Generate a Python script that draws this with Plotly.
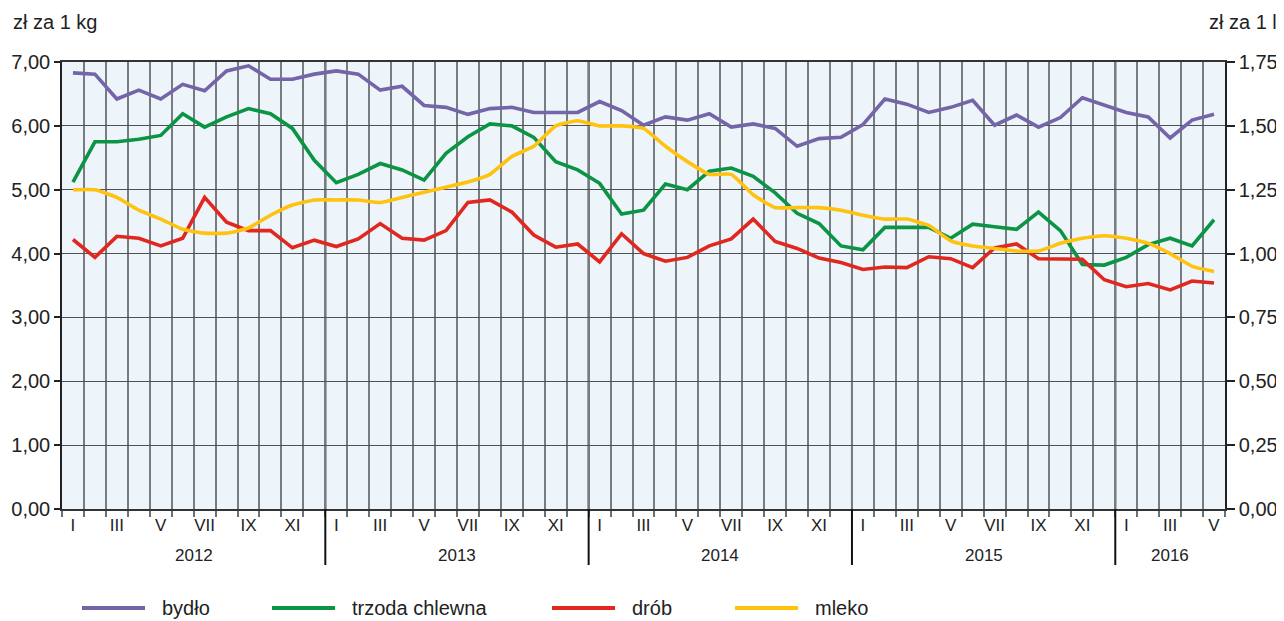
import plotly.graph_objects as go

# ---- data (monthly, I 2012 - V 2016) ----
years = ["2012", "2013", "2014", "2015", "2016"]
year_months = [12, 12, 12, 12, 5]
roman = ["I", "II", "III", "IV", "V", "VI", "VII", "VIII", "IX", "X", "XI", "XII"]

bydlo = [6.83, 6.81, 6.42, 6.56, 6.42, 6.65, 6.55, 6.86, 6.94, 6.73, 6.73, 6.81,
         6.86, 6.81, 6.56, 6.62, 6.32, 6.29, 6.18, 6.27, 6.29, 6.21, 6.21, 6.21,
         6.38, 6.24, 6.01, 6.14, 6.09, 6.19, 5.98, 6.03, 5.96, 5.68, 5.80, 5.82,
         6.02, 6.42, 6.34, 6.21, 6.29, 6.40, 6.01, 6.17, 5.98, 6.13, 6.44, 6.32,
         6.21, 6.14, 5.81, 6.09, 6.18]
trzoda = [5.12, 5.75, 5.75, 5.79, 5.85, 6.19, 5.98, 6.14, 6.27, 6.19, 5.96, 5.46,
          5.11, 5.24, 5.41, 5.31, 5.15, 5.57, 5.83, 6.03, 6.00, 5.82, 5.44, 5.31,
          5.10, 4.62, 4.68, 5.09, 5.00, 5.29, 5.34, 5.21, 4.95, 4.63, 4.47, 4.12,
          4.06, 4.41, 4.41, 4.41, 4.24, 4.46, 4.42, 4.38, 4.65, 4.36, 3.83, 3.82,
          3.94, 4.14, 4.24, 4.12, 4.53]
drob = [4.22, 3.94, 4.27, 4.24, 4.12, 4.24, 4.88, 4.49, 4.36, 4.36, 4.09, 4.21,
        4.11, 4.23, 4.47, 4.24, 4.21, 4.36, 4.80, 4.84, 4.65, 4.29, 4.10, 4.15,
        3.87, 4.31, 4.00, 3.88, 3.94, 4.12, 4.23, 4.54, 4.19, 4.08, 3.93, 3.86,
        3.75, 3.79, 3.78, 3.95, 3.92, 3.78, 4.09, 4.15, 3.92, 3.91, 3.91, 3.59,
        3.48, 3.53, 3.43, 3.57, 3.54]
mleko = [1.25, 1.25, 1.22, 1.17, 1.135, 1.095, 1.08, 1.08, 1.10, 1.15, 1.19, 1.21,
         1.21, 1.21, 1.20, 1.22, 1.24, 1.26, 1.28, 1.31, 1.38, 1.42, 1.50, 1.52,
         1.50, 1.50, 1.49, 1.42, 1.36, 1.31, 1.31, 1.23, 1.18, 1.18, 1.18, 1.17,
         1.15, 1.135, 1.135, 1.11, 1.05, 1.03, 1.02, 1.01, 1.01, 1.04, 1.06, 1.07,
         1.06, 1.04, 1.00, 0.95, 0.93]

series_names = ["bydło", "trzoda chlewna", "drób", "mleko"]
colors = ["#7464A8", "#0A9444", "#E0281F", "#FFC20E"]

# ---- derived axis helpers ----
n = len(bydlo)
x = list(range(n))
month_labels = []
for ym in year_months:
    month_labels += roman[:ym]
label_vals = [i for i in x if i % 2 == 0]
label_text = [month_labels[i] for i in label_vals]
bounds = [i - 0.5 for i in range(n + 1)]
year_edges = []
acc = 0
for ym in year_months:
    year_edges.append((acc - 0.5, acc + ym - 0.5))
    acc += ym

FONT = "Liberation Sans, Arial, sans-serif"
NARROW = "Liberation Sans Narrow, Arial Narrow, Liberation Sans, Arial, sans-serif"
OFF = 8  # page body margin
W, H = 1284 - OFF, 621 - OFF
# plot area in page pixels
PL, PR, PT, PB = 62, 1225, 62, 509
L, R, T, B = PL - OFF, PR - OFF, PT - OFF, PB - OFF


def px_x(p):
    return (p - PL) / (PR - PL)


def px_y(p):
    return (PB - p) / (PB - PT)


fig = go.Figure()
for name, vals, col in zip(series_names[:3], [bydlo, trzoda, drob], colors[:3]):
    fig.add_trace(go.Scatter(x=x, y=vals, name=name, mode="lines",
                             line=dict(color=col, width=3.6), showlegend=False))
fig.add_trace(go.Scatter(x=x, y=mleko, name=series_names[3], mode="lines", yaxis="y2",
                         line=dict(color=colors[3], width=3.6, shape="spline", smoothing=0.4),
                         showlegend=False))

shapes = []
for (a, b) in year_edges[:-1]:
    shapes.append(dict(type="line", xref="x", yref="paper", x0=b, x1=b, y0=0, y1=1,
                       line=dict(color="#111111", width=2), layer="between"))
    shapes.append(dict(type="line", xref="x", yref="paper", x0=b, x1=b, y0=px_y(565), y1=0,
                       line=dict(color="#111111", width=2), layer="above"))

annotations = []
for yname, (a, b) in zip(years, year_edges):
    annotations.append(dict(x=(a + b) / 2, y=px_y(555), xref="x", yref="paper", text=yname,
                            showarrow=False, font=dict(family=FONT, size=17, color="#222"),
                            xanchor="center", yanchor="middle"))
annotations.append(dict(x=px_x(11), y=px_y(22), xref="paper", yref="paper", text="zł za 1 kg",
                        showarrow=False, font=dict(family=FONT, size=20, color="#222"),
                        xanchor="left", yanchor="middle"))
annotations.append(dict(x=px_x(1279), y=px_y(22), xref="paper", yref="paper", text="zł za 1 l",
                        showarrow=False, font=dict(family=FONT, size=20, color="#222"),
                        xanchor="right", yanchor="middle"))

# manual legend
leg_x = [82, 272, 552, 735]
leg_y = 608
for lx, name, col in zip(leg_x, series_names, colors):
    shapes.append(dict(type="line", xref="paper", yref="paper", x0=px_x(lx), x1=px_x(lx + 63),
                       y0=px_y(leg_y), y1=px_y(leg_y), line=dict(color=col, width=4), layer="above"))
    annotations.append(dict(x=px_x(lx + 78), y=px_y(leg_y), xref="paper", yref="paper", text=name,
                            showarrow=False, font=dict(family=FONT, size=20, color="#222"),
                            xanchor="left", yanchor="middle"))

fig.update_layout(
    width=W, height=H,
    margin=dict(l=L, r=W - R, t=T, b=H - B, autoexpand=False),
    paper_bgcolor="white",
    plot_bgcolor="#EDF5FB",
    separators=", ",
    showlegend=False,
    shapes=shapes,
    annotations=annotations,
    xaxis=dict(range=[-0.5, n - 0.5], tickmode="array", tickvals=label_vals, ticktext=label_text,
               ticks="", showgrid=False, zeroline=False, automargin=False,
               tickfont=dict(family=NARROW, size=17, color="#222"),
               showline=True, linecolor="#333", linewidth=1.5, mirror=True,
               minor=dict(tickmode="array", tickvals=bounds, ticks="outside", ticklen=6,
                          tickcolor="#6b7073", tickwidth=1.5, showgrid=True,
                          gridcolor="#767c80", gridwidth=1.7)),
    yaxis=dict(range=[0, 7], dtick=1, tick0=0, tickformat=".2f", showgrid=True,
               gridcolor="#4c5256", gridwidth=1.4, zeroline=False, automargin=False,
               ticks="outside", ticklen=6, tickcolor="#222", tickwidth=1.5,
               showline=True, linecolor="#222", linewidth=1.5,
               tickfont=dict(family=FONT, size=20, color="#222")),
    yaxis2=dict(range=[0, 1.75], dtick=0.25, tick0=0, tickformat=".2f", overlaying="y",
                side="right", showgrid=False, zeroline=False, automargin=False,
                ticks="outside", ticklen=8, tickcolor="#222", tickwidth=1.5,
                showline=True, linecolor="#222", linewidth=1.5,
                tickfont=dict(family=FONT, size=20, color="#222")),
)

fig.write_html("out.html")
